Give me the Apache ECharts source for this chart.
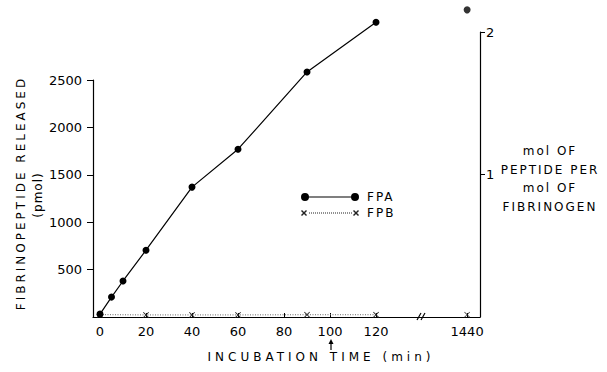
<!DOCTYPE html>
<html>
<head>
<meta charset="utf-8">
<script src="https://cdn.jsdelivr.net/npm/echarts@6.0.0/dist/echarts.min.js"></script>
<style>
  html, body { margin: 0; padding: 0; background: #fff; }
  #chart { width: 607px; height: 372px; }
  /* the lettering of the original is widely spaced */
  #chart text[style*="ls1x"] { letter-spacing: 1px; }
  #chart text[style*="ls2x"] { letter-spacing: 2px; }
  #chart text[style*="ls3x"] { letter-spacing: 3px; }
  #chart text[style*="ls4x"] { letter-spacing: 4px; }
</style>
</head>
<body>
<div id="chart"></div>
<script>
// incubation time (min) and fibrinopeptide released (pmol)
const times = [0, 5, 10, 20, 40, 60, 90, 120];
const fpa = [30, 210, 380, 705, 1370, 1770, 2585, 3110];
const fpbTimes = [0, 20, 40, 60, 90, 120];
const fpb = [25, 22, 22, 22, 24, 24];
const lateTime = 1440;
const fpaLate = 3240;
const fpbLate = 24;

const xTicks = [0, 20, 40, 60, 80, 100, 120, 1440];
const leftTicks = [500, 1000, 1500, 2000, 2500];
const rightTicks = [1, 2];

// broken time axis: everything after 120 min sits at one spot past the break
const LATE_POS = 159.6;
const pos = t => (t > 120 ? LATE_POS : t);

const FONT = "'DejaVu Sans'";
const ink = '#000';

const crossPath = 'path://M0,1L1,0L5,4L9,0L10,1L6,5L10,9L9,10L5,6L1,10L0,9L4,5Z';
const fpaIcon = 'path://M0,4A4,4,0,1,1,8,4A4,4,0,1,1,0,4Z M50,4A4,4,0,1,1,58,4A4,4,0,1,1,50,4Z M4,3.4H54V4.6H4Z';
let fpbIcon = 'path://M0,1L1,0L3,2L5,0L6,1L4,3L6,5L5,6L3,4L1,6L0,5L2,3Z ' +
  'M52,1L53,0L55,2L57,0L58,1L56,3L58,5L57,6L55,4L53,6L52,5L54,3Z ' +
  'M0,-1H0.01V-0.99H0Z M0,6.99H0.01V7H0Z';
for (let x = 8; x < 51; x += 2) fpbIcon += ' M' + x + ',2.5H' + (x + 1) + 'V3.5H' + x + 'Z';

const chart = echarts.init(document.getElementById('chart'), null, { renderer: 'svg' });

const labelStyle = { color: ink, fontFamily: FONT, fontSize: 13 };
const plain = v => String(v);

chart.setOption({
  animation: false,
  backgroundColor: '#fff',
  grid: [
    { left: 93, right: 127, top: 80, bottom: 55 },
    { left: 93, right: 127, top: 32, bottom: 55 }
  ],
  xAxis: [
    {
      type: 'value', gridIndex: 0, min: -3.04, max: 165.2,
      splitLine: { show: false },
      axisLine: { onZero: false, lineStyle: { color: ink, width: 1.2 } },
      axisTick: { inside: true, length: 4, customValues: xTicks.map(pos), lineStyle: { color: ink } },
      axisLabel: {
        ...labelStyle, margin: 8, customValues: xTicks.map(pos),
        formatter: v => (v === LATE_POS ? String(lateTime) : String(v))
      }
    },
    { type: 'value', gridIndex: 1, min: -3.04, max: 165.2, show: false }
  ],
  yAxis: [
    {
      type: 'value', gridIndex: 0, min: 0, max: 2500,
      splitLine: { show: false },
      axisLine: { show: true, onZero: false, lineStyle: { color: ink, width: 1.2 } },
      axisTick: { show: true, length: 6, customValues: leftTicks, lineStyle: { color: ink } },
      axisLabel: { ...labelStyle, margin: 11, customValues: leftTicks, formatter: plain }
    },
    {
      type: 'value', gridIndex: 1, position: 'right', min: 0, max: 2,
      splitLine: { show: false },
      axisLine: { show: true, onZero: false, lineStyle: { color: ink, width: 1.2 } },
      axisTick: { show: true, length: 5, customValues: rightTicks, lineStyle: { color: ink } },
      axisLabel: { ...labelStyle, margin: 6, customValues: rightTicks, formatter: plain }
    }
  ],
  legend: {
    orient: 'vertical', left: 296, top: 186, itemWidth: 58, itemHeight: 8, itemGap: 4,
    textStyle: { color: ink, fontSize: 12, fontFamily: FONT + ', ls2x', padding: [0, 0, 0, 3] },
    data: [
      { name: 'FPA', icon: fpaIcon, itemStyle: { color: ink } },
      { name: 'FPB', icon: fpbIcon, itemStyle: { color: '#222' } }
    ]
  },
  series: [
    {
      name: 'FPA', type: 'line', xAxisIndex: 0, yAxisIndex: 0, clip: false,
      data: times.map((t, i) => [pos(t), fpa[i]]),
      symbol: 'circle', symbolSize: 7,
      lineStyle: { color: ink, width: 1.2 }, itemStyle: { color: ink }, z: 3
    },
    {
      name: 'FPA', type: 'scatter', xAxisIndex: 0, yAxisIndex: 0, clip: false,
      data: [[pos(lateTime), fpaLate]],
      symbol: 'circle', symbolSize: 7, itemStyle: { color: ink }, z: 3
    },
    {
      name: 'FPB', type: 'line', xAxisIndex: 0, yAxisIndex: 0,
      data: fpbTimes.map((t, i) => [pos(t), fpb[i]]),
      symbol: crossPath, symbolSize: 6, symbolKeepAspect: true,
      lineStyle: { color: '#666', width: 1, type: [1, 1.5] }, itemStyle: { color: '#222' }, z: 2
    },
    {
      name: 'FPB', type: 'scatter', xAxisIndex: 0, yAxisIndex: 0,
      data: [[pos(lateTime), fpbLate]],
      symbol: crossPath, symbolSize: 6, itemStyle: { color: '#222' }, z: 2
    }
  ],
  graphic: [
    {
      type: 'text', x: 21, y: 193, rotation: Math.PI / 2,
      style: { text: 'FIBRINOPEPTIDE RELEASED', font: '12px ' + FONT + ', ls3x', fill: ink, align: 'center', verticalAlign: 'middle' }
    },
    {
      type: 'text', x: 38, y: 195, rotation: Math.PI / 2,
      style: { text: '(pmol)', font: '12px ' + FONT + ', ls1x', fill: ink, align: 'center', verticalAlign: 'middle' }
    },
    {
      type: 'text', x: 321, y: 357,
      style: { text: 'INCUBATION TIME (min)', font: '12px ' + FONT + ', ls4x', fill: ink, align: 'center', verticalAlign: 'middle' }
    },
    {
      type: 'text', x: 550, y: 142,
      style: { text: 'mol OF\nPEPTIDE PER\nmol OF\nFIBRINOGEN', font: '12px ' + FONT + ', ls2x', fill: ink, align: 'center', verticalAlign: 'top', lineHeight: 18.5 }
    },
    // arrow under the 100 min label
    { type: 'line', shape: { x1: 331, y1: 350, x2: 331, y2: 342 }, style: { stroke: ink, lineWidth: 1.2 } },
    { type: 'polygon', shape: { points: [[328.5, 344], [331, 339], [333.5, 344]] }, style: { fill: ink } },
    // axis break marks
    { type: 'line', shape: { x1: 417, y1: 320, x2: 421, y2: 313 }, style: { stroke: ink, lineWidth: 1.2 } },
    { type: 'line', shape: { x1: 421, y1: 320, x2: 425, y2: 313 }, style: { stroke: ink, lineWidth: 1.2 } }
  ]
});
</script>
</body>
</html>
